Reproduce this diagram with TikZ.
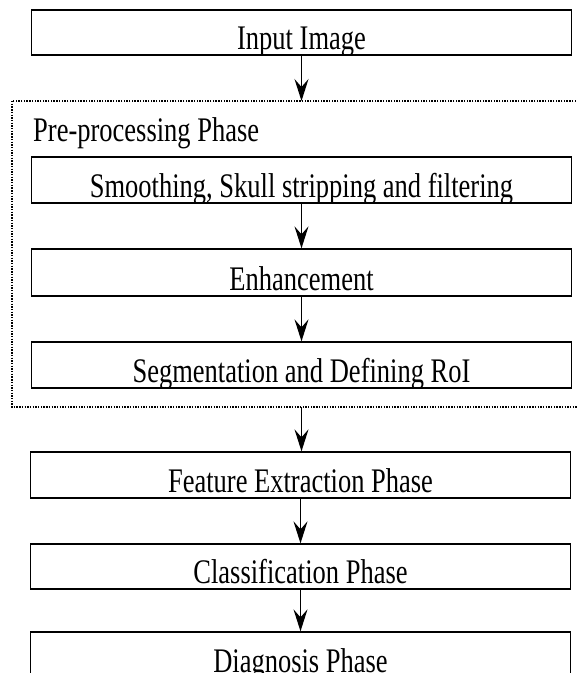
\documentclass[tikz,border=0pt]{standalone}
\usepackage{fontspec}
\setmainfont{Liberation Serif}
\usetikzlibrary{arrows.meta}
\newcommand{\tallText}[1]{\scalebox{1}[1.3]{#1}}
\begin{document}
\begin{tikzpicture}[
  x=1pt, y=-1pt,
  font=\fontsize{26.5}{30}\selectfont,
  phase/.style={draw, line width=1.3pt, minimum width=540pt, minimum height=46pt, inner sep=0pt,
    path picture={\node[anchor=base] at ([yshift=5.5pt]path picture bounding box.south) {\tallText{#1}};}},
  frame/.style={line width=1.4pt, dash pattern=on 1.4pt off 1.3pt},
  arr/.style={line width=1.4pt, -{Stealth[length=22pt, width=14pt, inset=8pt]}}
]
\useasboundingbox (0,0) rectangle (577,673);

% Input
\node[phase={Input Image}, minimum height=45pt] (input) at (301.5,32.5) {};

% Pre-processing phase (dotted frame, open to the right)
\draw[frame] (12,101) rectangle (640,407);
\coordinate (pretop) at (301.5,101);
\coordinate (prebot) at (301.5,407);
\node[anchor=base west, inner sep=0pt] (prelabel) at (33,141) {\tallText{Pre-processing Phase}};
\node[phase={Smoothing, Skull stripping and filtering}] (smooth) at (301.5,180) {};
\node[phase={Enhancement}, minimum height=47pt] (enhance) at (301.5,272.5) {};
\node[phase={Segmentation and Defining RoI}] (segment) at (301.5,365) {};

% Later phases
\node[phase={Feature Extraction Phase}] (feature) at (300.5,475) {};
\node[phase={Classification Phase}, minimum height=45pt] (classify) at (300.5,566.5) {};
\node[phase={Diagnosis Phase}] (diagnose) at (300.5,655) {};

\draw[arr] (input) -- (pretop);
\draw[arr] (smooth) -- (enhance);
\draw[arr] (enhance) -- (segment);
\draw[arr] (prebot) -- (prebot |- feature.north);
\draw[arr] (feature) -- (classify);
\draw[arr] (classify) -- (diagnose);
\end{tikzpicture}
\end{document}
